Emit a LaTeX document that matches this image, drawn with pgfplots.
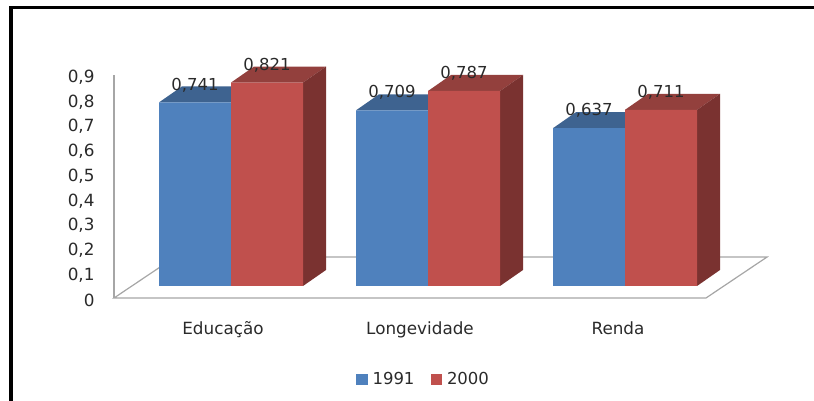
\documentclass[border=0pt]{standalone}
\usepackage{fontspec}
\setmainfont{DejaVu Sans}
\usepackage{pgfplots}
\pgfplotsset{compat=1.18}
\definecolor{cb}{HTML}{4F81BD}
\definecolor{cbt}{HTML}{3E6390}
\definecolor{cr}{HTML}{C0504D}
\definecolor{crt}{HTML}{93403D}
\definecolor{crs}{HTML}{7A3230}
\definecolor{cfl}{HTML}{A6A6A6}
\definecolor{ctx}{HTML}{2A2A2A}
\begin{document}
\begin{tikzpicture}[x=1pt,y=1pt]
\path[use as bounding box] (0,0) rectangle (814,401);
\fill[black] (9,0) rectangle (13,395);
\fill[black] (9,391.5) rectangle (814,395);
\begin{axis}[
  at={(114pt,103pt)},anchor=south west,
  scale only axis,width=700pt,height=223pt,
  xmin=114,xmax=814,ymin=0,ymax=0.9,
  clip=false,
  separate axis lines,
  axis x line*=bottom,axis y line*=left,
  x axis line style={draw=none},
  y axis line style={draw=cfl,line width=1.3pt},
  major tick length=0pt,
  xtick={223,420,618},
  xticklabels={Educação,Longevidade,Renda},
  xticklabel style={yshift=-20pt,text=ctx,font=\fontsize{16.8}{18}\selectfont},
  ytick={0,0.1,0.2,0.3,0.4,0.5,0.6,0.7,0.8,0.9},
  yticklabel style={xshift=-16pt,yshift=-2pt,text=ctx,font=\fontsize{16.8}{18}\selectfont},
  /pgf/number format/.cd,use comma,fixed,precision=3,assume math mode=true,
  /pgfplots/.cd,
  legend columns=2,
  legend style={at={(axis cs:423.5,-0.323)},anchor=center,draw=none,fill=none,
    font=\fontsize{16.5}{18}\selectfont,text=ctx,inner sep=0pt,
    /tikz/every even column/.append style={column sep=14pt}},
  face/.style={draw=none,forget plot,yshift=12pt},
  bar/.style={ybar,bar width=72pt,draw=none,yshift=12pt,
    nodes near coords,
    every node near coord/.append style={text=ctx,font=\fontsize{16.5}{18}\selectfont,anchor=center,yshift=17.5pt,inner sep=0pt}},
]
% floor
\addplot[draw=cfl,line width=1.2pt,fill=white,forget plot] coordinates {(114,0)(706,0)(767,0.1653)(175,0.1653)} --cycle;
% 1991 tops
\addplot[face,fill=cbt] coordinates {(159,0.741)(231,0.741)(254,0.8056)(182,0.8056)} --cycle;
\addplot[face,fill=cbt] coordinates {(356,0.709)(428,0.709)(451,0.7736)(379,0.7736)} --cycle;
\addplot[face,fill=cbt] coordinates {(553,0.637)(625,0.637)(648,0.7016)(576,0.7016)} --cycle;
% 1991 fronts
\addplot[bar,fill=cb,legend image code/.code={\path (14.5pt,0pt); \fill[cb] (0pt,-17pt) rectangle (11.5pt,-6pt);}]
  coordinates {(195,0.741)(392,0.709)(589,0.637)};
\addlegendentry{1991}
% 2000 tops and sides
\addplot[face,fill=crt] coordinates {(231,0.821)(303,0.821)(326,0.8856)(254,0.8856)} --cycle;
\addplot[face,fill=crt] coordinates {(428,0.787)(500,0.787)(523,0.8516)(451,0.8516)} --cycle;
\addplot[face,fill=crt] coordinates {(625,0.711)(697,0.711)(720,0.7756)(648,0.7756)} --cycle;
\addplot[face,fill=crs] coordinates {(303,0)(326,0.0646)(326,0.8856)(303,0.821)} --cycle;
\addplot[face,fill=crs] coordinates {(500,0)(523,0.0646)(523,0.8516)(500,0.787)} --cycle;
\addplot[face,fill=crs] coordinates {(697,0)(720,0.0646)(720,0.7756)(697,0.711)} --cycle;
% 2000 fronts
\addplot[bar,fill=cr,legend image code/.code={\path (14.5pt,0pt); \fill[cr] (0pt,-17pt) rectangle (11.5pt,-6pt);}]
  coordinates {(267,0.821)(464,0.787)(661,0.711)};
\addlegendentry{2000}
\end{axis}
\end{tikzpicture}
\end{document}
